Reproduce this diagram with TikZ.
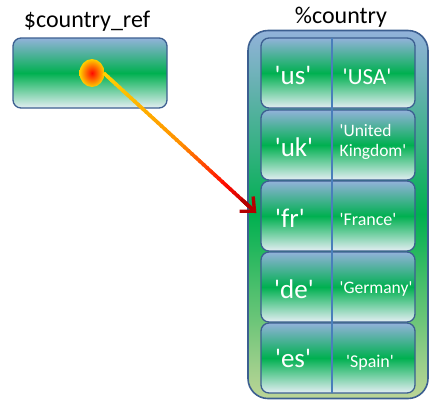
\documentclass[tikz,border=0pt]{standalone}
\usepackage{fontspec}
\setmainfont{Carlito}
\usetikzlibrary{calc,arrows.meta,shapes.geometric}
\newcommand{\qs}{\textquotesingle}
\definecolor{topb}{HTML}{92B2DA}
\definecolor{grn}{HTML}{00B050}
\definecolor{botw}{HTML}{E4EEF3}
\definecolor{botg}{HTML}{BDD597}
\definecolor{bdr}{HTML}{3C5F90}
\definecolor{divc}{HTML}{4A7EBB}
\definecolor{ylw}{HTML}{FFD000}
\definecolor{org}{HTML}{FF9000}
\definecolor{rd}{HTML}{FF0A00}
\definecolor{drd}{HTML}{B40000}
\tikzset{
  gbox/.style={rounded corners=8pt, draw=bdr, line width=1.3pt, inner sep=0pt,
    minimum width=154pt, minimum height=70pt,
    top color=topb, bottom color=botw, middle color=grn},
  outerbox/.style={rounded corners=20pt, draw=bdr, line width=1.6pt, inner sep=0pt,
    minimum width=180pt, minimum height=368pt,
    top color=topb, bottom color=botg, middle color=grn},
  keytxt/.style={text=white, font=\fontsize{27}{27}\selectfont, anchor=base, inner sep=0pt},
  valtxt/.style={text=white, font=\fontsize{18}{20}\selectfont, anchor=base, inner sep=0pt},
  lbl/.style={text=black, font=\fontsize{24}{24}\selectfont, anchor=base, inner sep=0pt},
}
\begin{document}
\begin{tikzpicture}[x=1pt,y=-1pt]
\useasboundingbox (0,0) rectangle (436,408);
% labels
\node[lbl] (lref) at (87,27) {\$country\_ref};
\node[lbl] (lhash) at (341,23) {\%country};
% outer hash box
\node[outerbox] (outer) at (338,214.5) {};
% rows
\node[gbox] (r1) at (338,73) {};
\node[gbox] (r2) at (338,145) {};
\node[gbox] (r3) at (338,216) {};
\node[gbox] (r4) at (338,287) {};
\node[gbox] (r5) at (338,358) {};
\coordinate (dtop) at (332,38);
\coordinate (dbot) at (332,393);
\draw[divc, line width=1.4pt] (dtop) -- (dbot);
% keys
\node[keytxt] (k1) at (293,84) {\qs us\qs};
\node[keytxt] (k2) at (294,156) {\qs uk\qs};
\node[keytxt] (k3) at (290,227) {\qs fr\qs};
\node[keytxt] (k4) at (294,298) {\qs de\qs};
\node[keytxt] (k5) at (293,367) {\qs es\qs};
% values
\node[text=white, font=\fontsize{23}{23}\selectfont, anchor=base, inner sep=0pt] (v1) at (367,84) {\qs USA\qs};
\node[valtxt, font=\fontsize{17.5}{20}\selectfont, align=left, anchor=north] (v2) at (373,124) {\qs United\\Kingdom\qs};
\node[valtxt] (v3) at (368,225) {\qs France\qs};
\node[valtxt, font=\fontsize{17.5}{20}\selectfont] (v4) at (376,293) {\qs Germany\qs};
\node[valtxt] (v5) at (370,367) {\qs Spain\qs};
% reference box
\node[gbox] (ref) at (90,73) {};
\node[ellipse, minimum width=25pt, minimum height=28pt, inner sep=0pt,
      inner color=rd, outer color=ylw] (dot) at (92,73) {};
% arrow
\coordinate (tip) at ([shift={(-4,-3)}]r3.west);
\coordinate (st) at ([shift={(-1,0)}]dot.east);
\foreach \i in {0,...,39}{
  \pgfmathsetmacro{\ta}{\i/40}
  \pgfmathsetmacro{\tb}{min(0.92,(\i+1.3)/40)}
  \pgfmathtruncatemacro{\p}{max(0,min(100,100*(\i/39)/0.5))}
  \pgfmathtruncatemacro{\q}{max(0,min(100,100*(\i/39-0.5)/0.3))}
  \pgfmathtruncatemacro{\r}{max(0,min(100,100*(\i/39-0.8)/0.2))}
  \colorlet{segc}{org!\p!ylw}
  \colorlet{segd}{rd!\q!segc}
  \colorlet{sege}{drd!\r!segd}
  \draw[sege, line width=3.6pt] ($(st)!\ta!(tip)$) -- ($(st)!\tb!(tip)$);
}
\draw[drd, line width=3.6pt, -{Straight Barb[length=11pt,width=20pt,line width=3.4pt]}]
  ($(st)!0.9!(tip)$) -- (tip);
\end{tikzpicture}
\end{document}
